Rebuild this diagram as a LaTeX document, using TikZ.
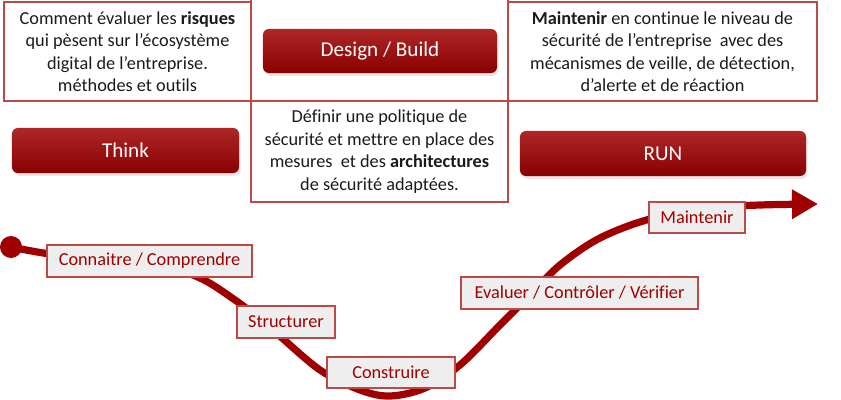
\documentclass[tikz,border=0pt]{standalone}
\usepackage{fontspec}
\setmainfont{Carlito}[Ligatures=NoCommon]
\usetikzlibrary{positioning,shadows,arrows.meta}
\definecolor{cadre}{HTML}{B94A48}
\definecolor{rouge}{HTML}{A00000}
\definecolor{fondlab}{HTML}{EEEEEE}
\definecolor{texte}{HTML}{1A1A1A}
\begin{document}
\begin{tikzpicture}[x=0.025cm,y=-0.025cm,
    every node/.style={font=\fontsize{13}{16}\selectfont},
    bloc/.style={draw=cadre,line width=1.1pt,inner sep=0pt,align=center,text=texte},
    bouton/.style={rounded corners=0.15cm,inner sep=0pt,text=white,font=\fontsize{15}{18}\selectfont,
        top color=rouge!100!red!85!white,bottom color=rouge!85!black,
        drop shadow={opacity=0.2,shadow xshift=0.04cm,shadow yshift=-0.07cm}},
    etape/.style={draw=cadre,line width=1.1pt,fill=fondlab,text=rouge,inner sep=0pt,minimum height=0.8cm},
    courbe/.style={rouge,line width=0.18cm,-{Triangle[length=0.65cm,width=0.7cm]}}]
  \useasboundingbox (0,0) rectangle (841,400);

  % cadres de texte
  \node[bloc,minimum width=6.175cm,minimum height=2.475cm] (think-txt) at (127.5,51.5)
    {Comment évaluer les \textbf{risques}\\qui pèsent sur l’écosystème\\digital de l’entreprise.\\méthodes et outils};
  \node[bloc,minimum width=6.425cm,minimum height=2.6cm] (build-haut) at (379.5,49) {};
  \node[bloc,minimum width=6.425cm,minimum height=2.525cm] (build-txt) at (379.5,151.5)
    {Définir une politique de\\sécurité et mettre en place des\\mesures\ \ et des \textbf{architectures}\\de sécurité adaptées.};
  \node[bloc,minimum width=7.725cm,minimum height=2.475cm] (run-txt) at (662.5,51.5)
    {\textbf{Maintenir} en continue le niveau de\\sécurité de l’entreprise\ \ avec des\\mécanismes de veille, de détection,\\d’alerte et de réaction};

  % boutons
  \node[bouton,minimum width=5.85cm,minimum height=1.1cm] (build) at (380,51) {Design / Build};
  \node[bouton,minimum width=5.675cm,minimum height=1.125cm] (think) at (125.5,150.5) {Think};
  \node[bouton,minimum width=7.15cm,minimum height=1.125cm] (run) at (663,153.5) {RUN};

  % courbe
  \node[circle,fill=rouge,minimum size=0.55cm,inner sep=0pt] (debut) at (11,247) {};
  \coordinate (fin) at (818,204);
  \draw[courbe] plot[smooth,tension=0.55] coordinates {(debut.center) (50,254) (120,262) (190,274) (235,300)
    (275,332) (320,370) (360,390) (390,396) (425,388) (460,365) (500,325) (530,295) (560,265)
    (600,238) (650,219) (710,208) (760,205) (fin)};

  % etapes
  \node[etape,minimum width=5.125cm] (connaitre) at (149.5,261) {Connaitre / Comprendre};
  \node[etape,minimum width=2.45cm] (structurer) at (286,322) {Structurer};
  \node[etape,minimum width=3.2cm,minimum height=0.775cm] (construire) at (391,372.5) {Construire};
  \node[etape,minimum width=5.925cm] (evaluer) at (579.5,293) {Evaluer / Contrôler / Vérifier};
  \node[etape,minimum width=2.4cm,minimum height=0.775cm] (maintenir) at (697,217.5) {Maintenir};
\end{tikzpicture}
\end{document}
